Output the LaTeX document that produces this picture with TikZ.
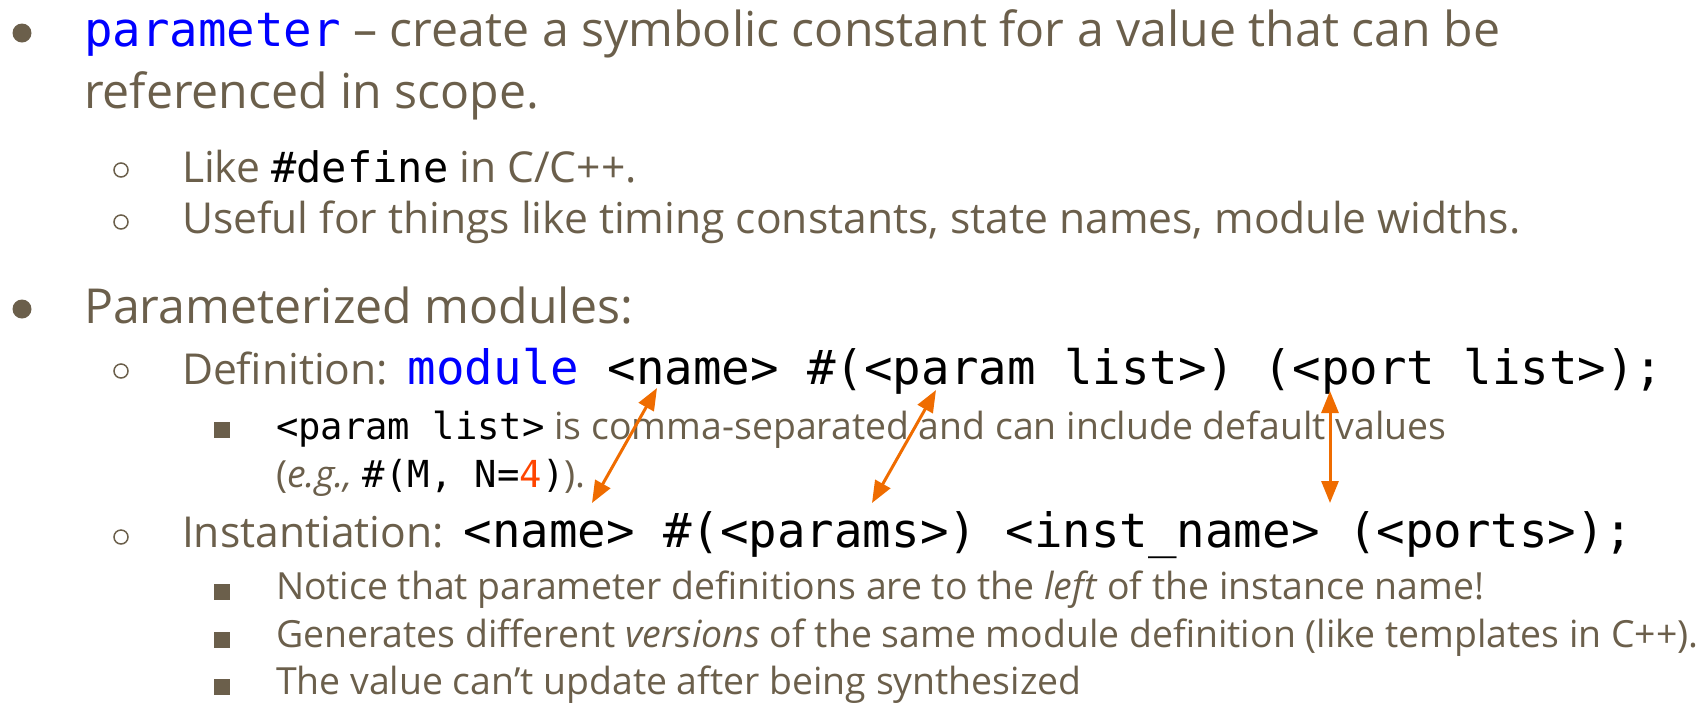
\documentclass[tikz,border=0pt]{standalone}
\usepackage{fontspec}
\setmainfont{Open Sans}
\newfontfamily\codefont{DejaVu Sans Mono}
\usetikzlibrary{arrows.meta}
\definecolor{txt}{RGB}{107,95,75}
\definecolor{kw}{RGB}{0,0,255}
\definecolor{arr}{RGB}{239,108,0}
\definecolor{num}{RGB}{255,69,0}
\newcommand{\cdA}[1]{{\codefont\fontsize{23.7}{28}\selectfont #1}}
\newcommand{\cdB}[1]{{\codefont\fontsize{21}{25}\selectfont #1}}
\newcommand{\cdC}[1]{{\codefont\fontsize{18.6}{22}\selectfont #1}}
\begin{document}
\begin{tikzpicture}[x=0.5pt,y=-0.5pt,
  txtline/.style={anchor=base west, inner sep=0pt, outer sep=0pt, text=txt},
  lone/.style={txtline, font=\fontsize{24.1}{28}\selectfont},
  ltwo/.style={txtline, font=\fontsize{21.3}{25}\selectfont},
  lthree/.style={txtline, font=\fontsize{18.7}{22}\selectfont},
  dotone/.style={circle, fill=txt, minimum size=9.5pt, inner sep=0pt},
  dottwo/.style={circle, draw=txt, line width=0.75pt, minimum size=7pt, inner sep=0pt},
  dotthree/.style={rectangle, fill=txt, minimum size=8pt, inner sep=0pt},
  link/.style={draw=arr, line width=1.5pt, {Triangle[length=11pt,width=8.5pt]}-{Triangle[length=11pt,width=8.5pt]}}
]
\useasboundingbox (0,0) rectangle (1698,709);
% level 1
\node[dotone] (b1) at (22,33) {};
\node[lone] (t1) at (84,46) {\cdA{\color{kw}parameter} – create a symbolic constant for a value that can be};
\node[lone] (t2) at (84,108) {referenced in scope.};
% level 2
\node[dottwo] (b3) at (121,170) {};
\node[ltwo] (t3) at (182,182) {Like \cdB{\color{black}\#define} in C/C++.};
\node[dottwo] (b4) at (121,222) {};
\node[ltwo] (t4) at (182,233) {Useful for things like timing constants, state names, module widths.};
% level 1
\node[dotone] (b5) at (22,309) {};
\node[lone] (t5) at (84,323) {Parameterized modules:};
% definition
\node[dottwo] (b6) at (121,371) {};
\node[ltwo] (t6) at (182,384) {Definition: \hspace{2.5pt}\cdA{\color{black}\textcolor{kw}{module} <name> \#(<param list>) (<port list>);}};
\node[dotthree] (b7) at (222,430) {};
\node[lthree] (t7) at (276,439) {\cdC{\color{black}<param list>} is comma-separated and can include default values};
\node[lthree] (t8) at (276,487) {(\textit{e.g.,} \cdC{\color{black}\#(M, N=\textcolor{num}{4})}).};
% instantiation
\node[dottwo] (b9) at (121,537) {};
\node[ltwo] (t9) at (182,547) {Instantiation: \hspace{2.5pt}\cdA{\color{black}<name> \#(<params>) <inst\_name> (<ports>);}};
\node[dotthree] (b10) at (222,592) {};
\node[lthree] (t10) at (276,599) {Notice that parameter definitions are to the \textit{left} of the instance name!};
\node[dotthree] (b11) at (222,640) {};
\node[lthree] (t11) at (276,647) {Generates different \textit{versions} of the same module definition (like templates in C++).};
\node[dotthree] (b12) at (222,687) {};
\node[lthree] (t12) at (276,694) {The value can’t update after being synthesized};
% arrows
\coordinate (a1t) at (657,388);
\coordinate (a1b) at (592,503);
\coordinate (a2t) at (936,390);
\coordinate (a2b) at (872,503);
\coordinate (a3t) at (1330,391);
\coordinate (a3b) at (1330,503);
\draw[link] (a1t) -- (a1b);
\draw[link] (a2t) -- (a2b);
\draw[link] (a3t) -- (a3b);
\end{tikzpicture}
\end{document}
